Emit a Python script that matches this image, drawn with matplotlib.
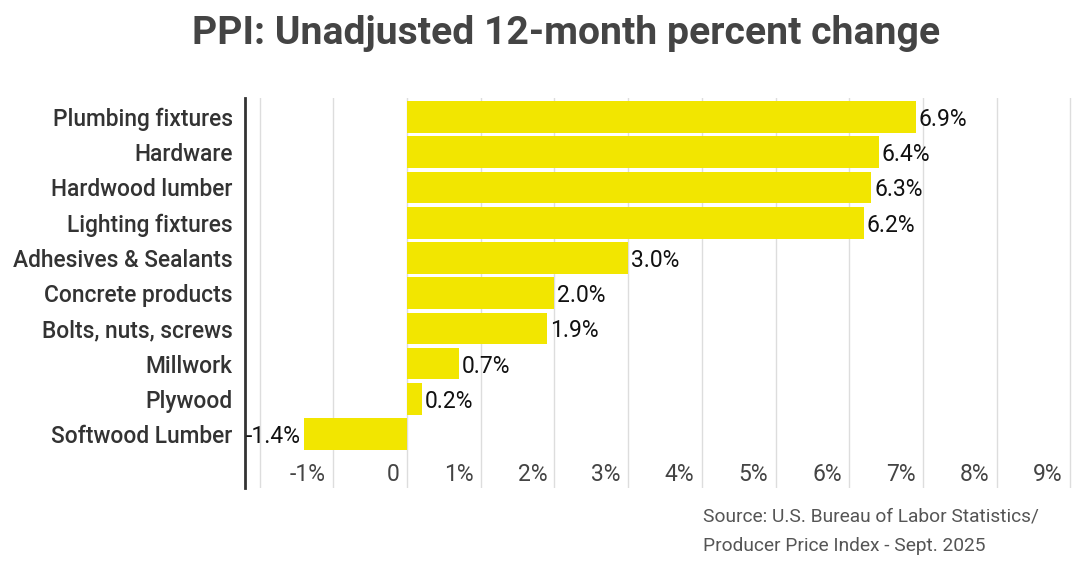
import matplotlib.pyplot as plt

categories = [
    "Plumbing fixtures", "Hardware", "Hardwood lumber", "Lighting fixtures",
    "Adhesives & Sealants", "Concrete products", "Bolts, nuts, screws",
    "Millwork", "Plywood", "Softwood Lumber",
]
values = [6.9, 6.4, 6.3, 6.2, 3.0, 2.0, 1.9, 0.7, 0.2, -1.4]
x_ticks = [-1, 0, 1, 2, 3, 4, 5, 6, 7, 8, 9]
x_tick_labels = ["-1%", "0", "1%", "2%", "3%", "4%", "5%", "6%", "7%", "8%", "9%"]

plt.rcParams["font.family"] = ["Roboto", "DejaVu Sans"]

fig = plt.figure(figsize=(10.89, 5.66), dpi=100)
ax = fig.add_axes([0.225, 0.1378, 0.9862 - 0.225, 0.8269 - 0.1378])

y = list(range(len(categories)))
ax.barh(y, values, height=0.9, color="#f2e600", zorder=2)

ax.set_xlim(-2.2, 9.05)
ax.set_ylim(10.53, -0.54)

# gridlines (including -2 line)
for g in [-2] + x_ticks:
    ax.axvline(g, color="#dddddd", lw=1, zorder=0)

# x tick labels sit inside the plot, just left of each gridline
for t, lab in zip(x_ticks, x_tick_labels):
    ax.text(t - 0.1, 10.08, lab, ha="right", va="center_baseline",
            fontsize=16.5, color="#444444")

# value labels
for yi, v in zip(y, values):
    if v >= 0:
        ax.text(v + 0.04, yi, f"{v:.1f}%", ha="left", va="center_baseline",
                fontsize=16.5, color="#111111", zorder=3)
    else:
        ax.text(v - 0.04, yi, f"{v:.1f}%", ha="right", va="center_baseline",
                fontsize=16.5, color="#111111", zorder=3)

ax.set_yticks(y)
ax.set_yticklabels(categories, fontsize=16.4, color="#333333", fontweight="medium")
ax.tick_params(axis="y", length=0, pad=9)
ax.set_xticks([])

for side in ("top", "right", "bottom"):
    ax.spines[side].set_visible(False)
ax.spines["left"].set_color("#333333")
ax.spines["left"].set_linewidth(2)

fig.text(0.52, 0.94, "PPI: Unadjusted 12-month percent change", ha="center",
         va="center", fontsize=28.2, fontweight="bold", color="#444444")
fig.text(0.646, 0.087, "Source: U.S. Bureau of Labor Statistics/", ha="left",
         va="center", fontsize=13.8, color="#555555")
fig.text(0.646, 0.035, "Producer Price Index - Sept. 2025", ha="left",
         va="center", fontsize=13.8, color="#555555")

fig.savefig("out.png", dpi=100)
